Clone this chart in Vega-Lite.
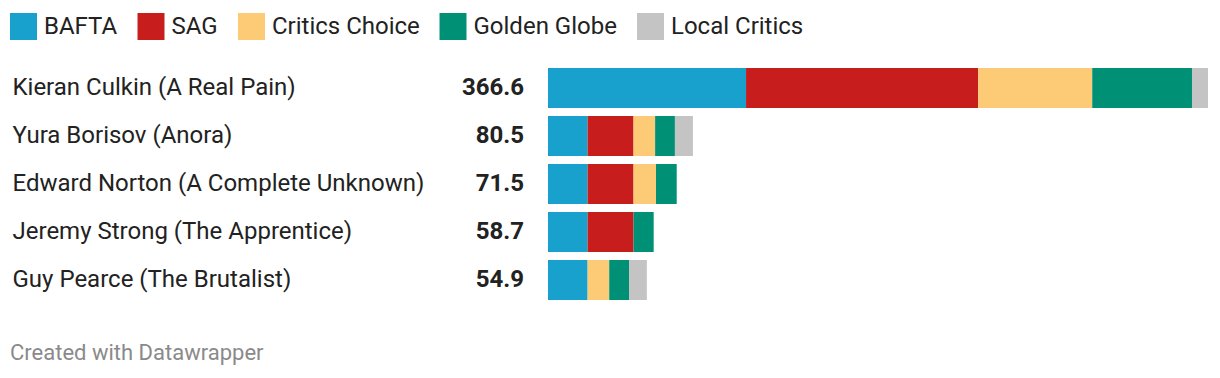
{
  "$schema": "https://vega.github.io/schema/vega-lite/v6.json",
  "autosize": "none",
  "width": 660,
  "height": 232,
  "padding": {"left": 548, "top": 68, "right": 12, "bottom": 78},
  "background": "white",
  "config": {"view": {"stroke": null}, "font": "Roboto"},
  "title": {
    "text": "Created with Datawrapper",
    "orient": "bottom",
    "anchor": "start",
    "frame": "group",
    "dx": -538,
    "offset": 43,
    "font": "Roboto",
    "fontSize": 22,
    "fontWeight": "normal",
    "color": "#8a8a8a"
  },
  "datasets": {
    "awards": [
      {"nominee": "Kieran Culkin (A Real Pain)", "award": "BAFTA", "ord": 1, "points": 110},
      {"nominee": "Kieran Culkin (A Real Pain)", "award": "SAG", "ord": 2, "points": 128.9},
      {"nominee": "Kieran Culkin (A Real Pain)", "award": "Critics Choice", "ord": 3, "points": 63.4},
      {"nominee": "Kieran Culkin (A Real Pain)", "award": "Golden Globe", "ord": 4, "points": 55.4},
      {"nominee": "Kieran Culkin (A Real Pain)", "award": "Local Critics", "ord": 5, "points": 8.9},
      {"nominee": "Yura Borisov (Anora)", "award": "BAFTA", "ord": 1, "points": 22},
      {"nominee": "Yura Borisov (Anora)", "award": "SAG", "ord": 2, "points": 25.5},
      {"nominee": "Yura Borisov (Anora)", "award": "Critics Choice", "ord": 3, "points": 12},
      {"nominee": "Yura Borisov (Anora)", "award": "Golden Globe", "ord": 4, "points": 11},
      {"nominee": "Yura Borisov (Anora)", "award": "Local Critics", "ord": 5, "points": 10},
      {"nominee": "Edward Norton (A Complete Unknown)", "award": "BAFTA", "ord": 1, "points": 22},
      {"nominee": "Edward Norton (A Complete Unknown)", "award": "SAG", "ord": 2, "points": 25.5},
      {"nominee": "Edward Norton (A Complete Unknown)", "award": "Critics Choice", "ord": 3, "points": 12.5},
      {"nominee": "Edward Norton (A Complete Unknown)", "award": "Golden Globe", "ord": 4, "points": 11.5},
      {"nominee": "Jeremy Strong (The Apprentice)", "award": "BAFTA", "ord": 1, "points": 22},
      {"nominee": "Jeremy Strong (The Apprentice)", "award": "SAG", "ord": 2, "points": 25.5},
      {"nominee": "Jeremy Strong (The Apprentice)", "award": "Golden Globe", "ord": 4, "points": 11.2},
      {"nominee": "Guy Pearce (The Brutalist)", "award": "BAFTA", "ord": 1, "points": 22},
      {"nominee": "Guy Pearce (The Brutalist)", "award": "Critics Choice", "ord": 3, "points": 12},
      {"nominee": "Guy Pearce (The Brutalist)", "award": "Golden Globe", "ord": 4, "points": 11},
      {"nominee": "Guy Pearce (The Brutalist)", "award": "Local Critics", "ord": 5, "points": 9.9}
    ],
    "totals": [
      {"nominee": "Kieran Culkin (A Real Pain)", "total": "366.6"},
      {"nominee": "Yura Borisov (Anora)", "total": "80.5"},
      {"nominee": "Edward Norton (A Complete Unknown)", "total": "71.5"},
      {"nominee": "Jeremy Strong (The Apprentice)", "total": "58.7"},
      {"nominee": "Guy Pearce (The Brutalist)", "total": "54.9"}
    ]
  },
  "encoding": {
    "y": {
      "field": "nominee",
      "type": "nominal",
      "sort": ["Kieran Culkin (A Real Pain)", "Yura Borisov (Anora)", "Edward Norton (A Complete Unknown)", "Jeremy Strong (The Apprentice)", "Guy Pearce (The Brutalist)"],
      "scale": {"paddingInner": 0.1667, "paddingOuter": 0},
      "axis": {
        "title": null,
        "domain": false,
        "ticks": false,
        "labelAlign": "left",
        "labelPadding": 536,
        "labelFont": "Roboto",
        "labelFontSize": 24,
        "labelColor": "#222222",
        "labelLimit": 600
      }
    }
  },
  "layer": [
    {
      "data": {"name": "awards"},
      "mark": {"type": "bar", "cornerRadius": 0},
      "encoding": {
        "x": {
          "field": "points",
          "type": "quantitative",
          "stack": "zero",
          "scale": {"domain": [0, 366.6], "nice": false, "zero": true},
          "axis": null
        },
        "order": {"field": "ord", "type": "quantitative"},
        "color": {
          "field": "award",
          "type": "nominal",
          "scale": {
            "domain": ["BAFTA", "SAG", "Critics Choice", "Golden Globe", "Local Critics"],
            "range": ["#18a1cd", "#c71e1d", "#fdca76", "#009076", "#c4c4c4"]
          },
          "legend": {
            "title": null,
            "orient": "none",
            "direction": "horizontal",
            "legendX": -538,
            "legendY": -55,
            "symbolType": "square",
            "symbolSize": 729,
            "symbolStrokeWidth": 0,
            "symbolOpacity": 1,
            "labelFont": "Roboto",
            "labelFontSize": 24,
            "labelColor": "#222222",
            "labelOffset": 7,
            "columnPadding": 19.5,
            "labelLimit": 300
          }
        }
      }
    },
    {
      "data": {"name": "totals"},
      "mark": {
        "type": "text",
        "align": "right",
        "baseline": "middle",
        "dx": -24,
        "font": "Roboto",
        "fontSize": 24,
        "fontWeight": "bold",
        "color": "#222222"
      },
      "encoding": {
        "x": {"datum": 0, "type": "quantitative"},
        "text": {"field": "total", "type": "nominal"}
      }
    }
  ]
}
